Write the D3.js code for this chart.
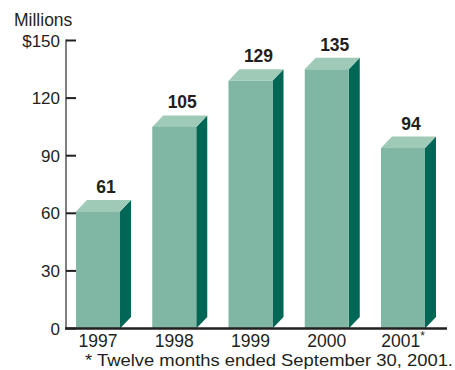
<!DOCTYPE html>
<html>
<head>
<meta charset="utf-8">
<script src="https://cdn.jsdelivr.net/npm/d3@7"></script>
<style>
  html, body { margin: 0; padding: 0; background: #fff; }
  svg { display: block; }
  text { font-family: "Liberation Sans", Arial, Helvetica, sans-serif; fill: #231f20; }
</style>
</head>
<body>
<svg id="chart" width="455" height="370"></svg>
<script>
// Annual totals, in millions of dollars
const years = ["1997", "1998", "1999", "2000", "2001"];
const values = [61, 105, 129, 135, 94];
const yTicks = [0, 30, 60, 90, 120, 150];
const yTickLabels = ["0", "30", "60", "90", "120", "$150"];
const footnote = "* Twelve months ended September 30, 2001.";

const svg = d3.select("#chart");

const axisX = 66;       // vertical axis position
const depthX = 11;      // 3-D extrusion offsets
const depthY = 11.5;

const y = d3.scaleLinear().domain([0, 150]).range([328.5, 40.5]);
const x = d3.scaleBand()
  .domain(years)
  .range([axisX, 435])
  .paddingInner(0.4226)
  .paddingOuter(0.131);

const colors = { front: "#80b7a4", top: "#9fcab8", side: "#006655" };

// Bars: front face, top face and right side face
const bars = svg.append("g").selectAll("g")
  .data(years.map((yr, i) => ({ yr, v: values[i] })))
  .join("g");

bars.append("path")
  .attr("fill", colors.side)
  .attr("d", d => {
    const x1 = x(d.yr) + x.bandwidth(), yt = y(d.v), yb = y(0);
    return `M${x1},${yt}L${x1 + depthX},${yt - depthY}L${x1 + depthX},${yb - depthY}L${x1},${yb}Z`;
  });

bars.append("path")
  .attr("fill", colors.top)
  .attr("d", d => {
    const x0 = x(d.yr), x1 = x0 + x.bandwidth(), yt = y(d.v);
    return `M${x0},${yt}L${x0 + depthX},${yt - depthY}L${x1 + depthX},${yt - depthY}L${x1},${yt}Z`;
  });

bars.append("rect")
  .attr("fill", colors.front)
  .attr("x", d => x(d.yr))
  .attr("y", d => y(d.v))
  .attr("width", x.bandwidth())
  .attr("height", d => y(0) - y(d.v));

// Value labels above each bar
bars.append("text")
  .attr("x", d => x(d.yr) + x.bandwidth() / 2 + 8)
  .attr("y", d => y(d.v) - depthY - 7)
  .attr("text-anchor", "middle")
  .style("font-size", "17.5px")
  .style("font-weight", "bold")
  .text(d => d.v);

// Vertical axis line
svg.append("line")
  .attr("x1", axisX).attr("x2", axisX)
  .attr("y1", y(150) - 1).attr("y2", y(0))
  .attr("stroke", "#808080").attr("stroke-width", 2);

// Y ticks, drawn inward
const yAxis = svg.append("g");
yAxis.selectAll("line")
  .data(yTicks)
  .join("line")
  .attr("x1", axisX).attr("x2", axisX + 10)
  .attr("y1", d => y(d)).attr("y2", d => y(d))
  .attr("stroke", "#231f20").attr("stroke-width", 2);

yAxis.selectAll("text")
  .data(yTicks)
  .join("text")
  .attr("x", axisX - 6)
  .attr("y", d => y(d) + 6)
  .attr("text-anchor", "end")
  .style("font-size", "17px")
  .text((d, i) => yTickLabels[i]);

svg.append("text")
  .attr("x", 14).attr("y", 26)
  .style("font-size", "17.5px")
  .text("Millions");

// Baseline
svg.append("line")
  .attr("x1", axisX - 1).attr("x2", 447)
  .attr("y1", y(0)).attr("y2", y(0))
  .attr("stroke", "#231f20").attr("stroke-width", 2.5);

// Category labels
const cats = svg.append("g").selectAll("text")
  .data(years)
  .join("text")
  .attr("x", d => x(d) + x.bandwidth() / 2)
  .attr("y", 347)
  .attr("text-anchor", "middle")
  .style("font-size", "17.5px")
  .text(d => d);

cats.filter(d => d === "2001")
  .append("tspan")
  .attr("dy", -7)
  .style("font-size", "12px")
  .text("*");

// Footnote
svg.append("text")
  .attr("x", 85).attr("y", 365.5)
  .attr("textLength", 368)
  .attr("lengthAdjust", "spacingAndGlyphs")
  .style("font-size", "17px")
  .text(footnote);
</script>
</body>
</html>
